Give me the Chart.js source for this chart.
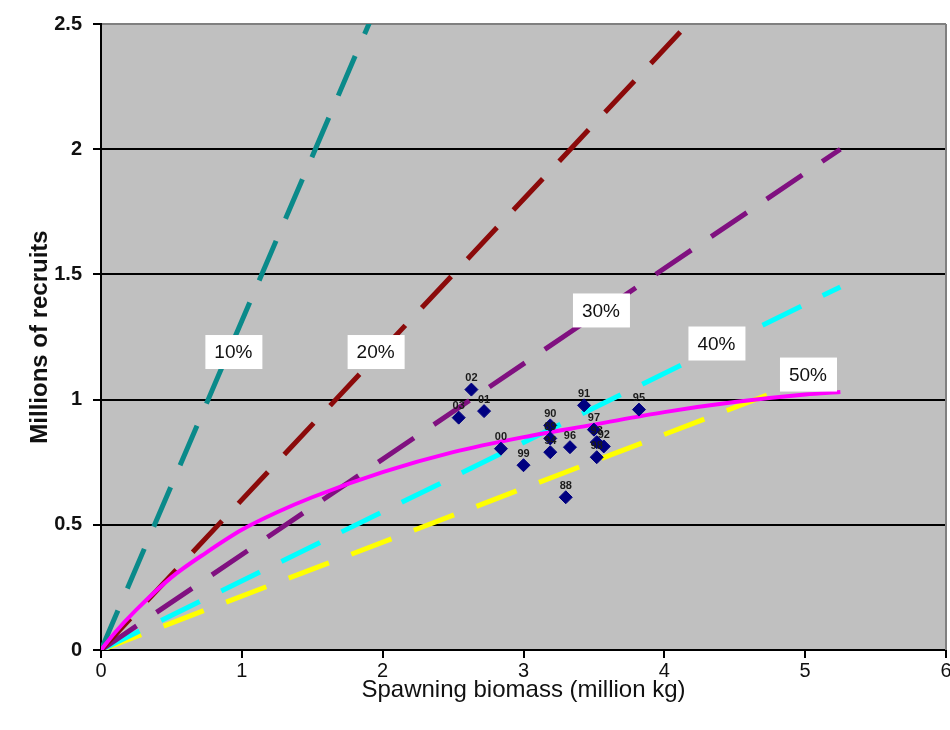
<!DOCTYPE html>
<html>
<head>
<meta charset="utf-8">
<script src="https://cdn.jsdelivr.net/npm/chart.js@4.4.1/dist/chart.umd.min.js"></script>
<style>
  html, body { margin: 0; padding: 0; background: #ffffff; }
  #wrap { width: 950px; height: 730px; }
</style>
</head>
<body>
<div id="wrap"><canvas id="chart" width="950" height="730"></canvas></div>
<script>
// Observed spawning biomass (million kg) and recruits (millions), by year class
const years    = ['88','89','90','91','92','93','94','95','96','97','98','99','00','01','02','03'];
const biomass  = [3.30, 3.19, 3.19, 3.43, 3.57, 3.52, 3.19, 3.82, 3.33, 3.50, 3.52, 3.00, 2.84, 2.72, 2.63, 2.54];
const recruits = [0.61, 0.845, 0.897, 0.977, 0.813, 0.83, 0.79, 0.96, 0.81, 0.88, 0.77, 0.738, 0.804, 0.954, 1.04, 0.928];

// Fitted stock-recruitment curve
const curveBiomass  = [0, 0.1, 0.25, 0.5, 0.75, 1, 1.25, 1.5, 2, 2.5, 3, 3.5, 4, 4.5, 5, 5.25];
const curveRecruits = [0, 0.07, 0.16, 0.29, 0.39, 0.48, 0.55, 0.61, 0.71, 0.79, 0.85, 0.90, 0.95, 0.99, 1.02, 1.03];

// Replacement lines at each spawning-potential level: origin to the value at the last biomass
const sprLabels       = ['10%', '20%', '30%', '40%', '50%'];
const lineEndBiomass  = 5.25;
const lineEndRecruits = [6.9, 3.15, 2.0, 1.45, 1.13];
const lineColors      = ['#0a8a8a', '#8b0a0a', '#801080', '#00ffff', '#ffff00'];

// Tag anchors for each line (biomass, recruits)
const tagBiomass  = [0.94, 1.95, 3.55, 4.37, 5.02];
const tagRecruits = [1.19, 1.19, 1.356, 1.224, 1.10];

// Axis ranges
const xMin = 0, xMax = 6, xStep = 1;
const yMin = 0, yMax = 2.5, yStep = 0.5;

const FONT = "'Liberation Sans', Arial, sans-serif";

const plotBackground = {
  id: 'plotBackground',
  beforeDraw(chart) {
    const { ctx, chartArea: a } = chart;
    ctx.save();
    ctx.fillStyle = '#c0c0c0';
    ctx.fillRect(a.left, a.top, a.right - a.left, a.bottom - a.top);
    ctx.restore();
  },
  beforeDatasetsDraw(chart) {
    const { ctx, chartArea: a } = chart;
    ctx.save();
    ctx.strokeStyle = '#808080';
    ctx.lineWidth = 2;
    ctx.beginPath();
    ctx.moveTo(a.right, a.top);
    ctx.lineTo(a.right, a.bottom);
    ctx.stroke();
    ctx.restore();
  }
};

const annotations = {
  id: 'annotations',
  afterDatasetsDraw(chart) {
    const { ctx } = chart;
    const xs = chart.scales.x, ys = chart.scales.y;
    ctx.save();
    // year labels above each observation
    const meta = chart.getDatasetMeta(0);
    ctx.font = 'bold 11px ' + FONT;
    ctx.fillStyle = '#1a1a1a';
    ctx.textAlign = 'center';
    ctx.textBaseline = 'bottom';
    meta.data.forEach((pt, i) => {
      ctx.fillText(years[i], pt.x, pt.y - 6);
    });
    // boxed tags for the replacement lines
    ctx.font = '19px ' + FONT;
    ctx.textBaseline = 'middle';
    sprLabels.forEach((lab, i) => {
      const px = xs.getPixelForValue(tagBiomass[i]);
      const py = ys.getPixelForValue(tagRecruits[i]);
      ctx.fillStyle = '#ffffff';
      ctx.fillRect(px - 28, py - 17, 57, 34);
      ctx.fillStyle = '#111111';
      ctx.fillText(lab, px, py + 1);
    });
    ctx.restore();
  }
};

const datasets = [];
datasets.push({
  label: 'Observed',
  data: biomass.map((b, i) => ({ x: b, y: recruits[i] })),
  pointStyle: 'rectRot',
  pointRadius: 6.5,
  backgroundColor: '#000080',
  borderColor: '#000080',
  borderWidth: 1,
  showLine: false
});
datasets.push({
  label: 'Stock-recruitment',
  data: curveBiomass.map((b, i) => ({ x: b, y: curveRecruits[i] })),
  showLine: true,
  borderColor: '#ff00ff',
  borderWidth: 4,
  pointRadius: 0,
  cubicInterpolationMode: 'monotone',
  fill: false
});
sprLabels.forEach((lab, i) => {
  datasets.push({
    label: lab,
    data: [{ x: 0, y: 0 }, { x: lineEndBiomass, y: lineEndRecruits[i] }],
    showLine: true,
    borderColor: lineColors[i],
    borderWidth: 5,
    borderDash: [43, 24],
    borderCapStyle: 'butt',
    pointRadius: 0,
    fill: false
  });
});

new Chart(document.getElementById('chart'), {
  type: 'scatter',
  data: { datasets },
  plugins: [plotBackground, annotations],
  options: {
    responsive: false,
    animation: false,
    events: [],
    layout: { autoPadding: false, padding: { top: 24, right: 4, left: 0, bottom: 0 } },
    plugins: {
      legend: { display: false },
      tooltip: { enabled: false }
    },
    scales: {
      x: {
        type: 'linear',
        min: xMin, max: xMax,
        afterFit(s) { s.height = 80; s.paddingRight = 0; },
        ticks: { stepSize: xStep, color: '#111', padding: 1, font: { family: FONT, size: 20 } },
        grid: { drawOnChartArea: false, drawTicks: true, tickLength: 8, tickColor: '#000', lineWidth: 2 },
        border: { color: '#000', width: 2 },
        title: {
          display: true,
          text: 'Spawning biomass (million kg)',
          color: '#111',
          font: { family: FONT, size: 24 },
          padding: { top: 0, bottom: 25 }
        }
      },
      y: {
        type: 'linear',
        min: yMin, max: yMax,
        afterFit(s) { s.width = 101; },
        ticks: {
          stepSize: yStep,
          color: '#111',
          padding: 11,
          font: { family: FONT, size: 20, weight: 'bold' },
          callback: (v) => String(Number(v))
        },
        grid: {
          color: (c) => (c.tick && c.tick.value === yMax ? '#808080' : '#000'),
          tickColor: '#000',
          lineWidth: 2,
          tickLength: 8
        },
        border: { color: '#000', width: 2 },
        title: {
          display: true,
          text: 'Millions of recruits',
          color: '#111',
          font: { family: FONT, size: 24, weight: 'bold' },
          padding: { top: 26, bottom: 0 }
        }
      }
    }
  }
});
</script>
</body>
</html>
